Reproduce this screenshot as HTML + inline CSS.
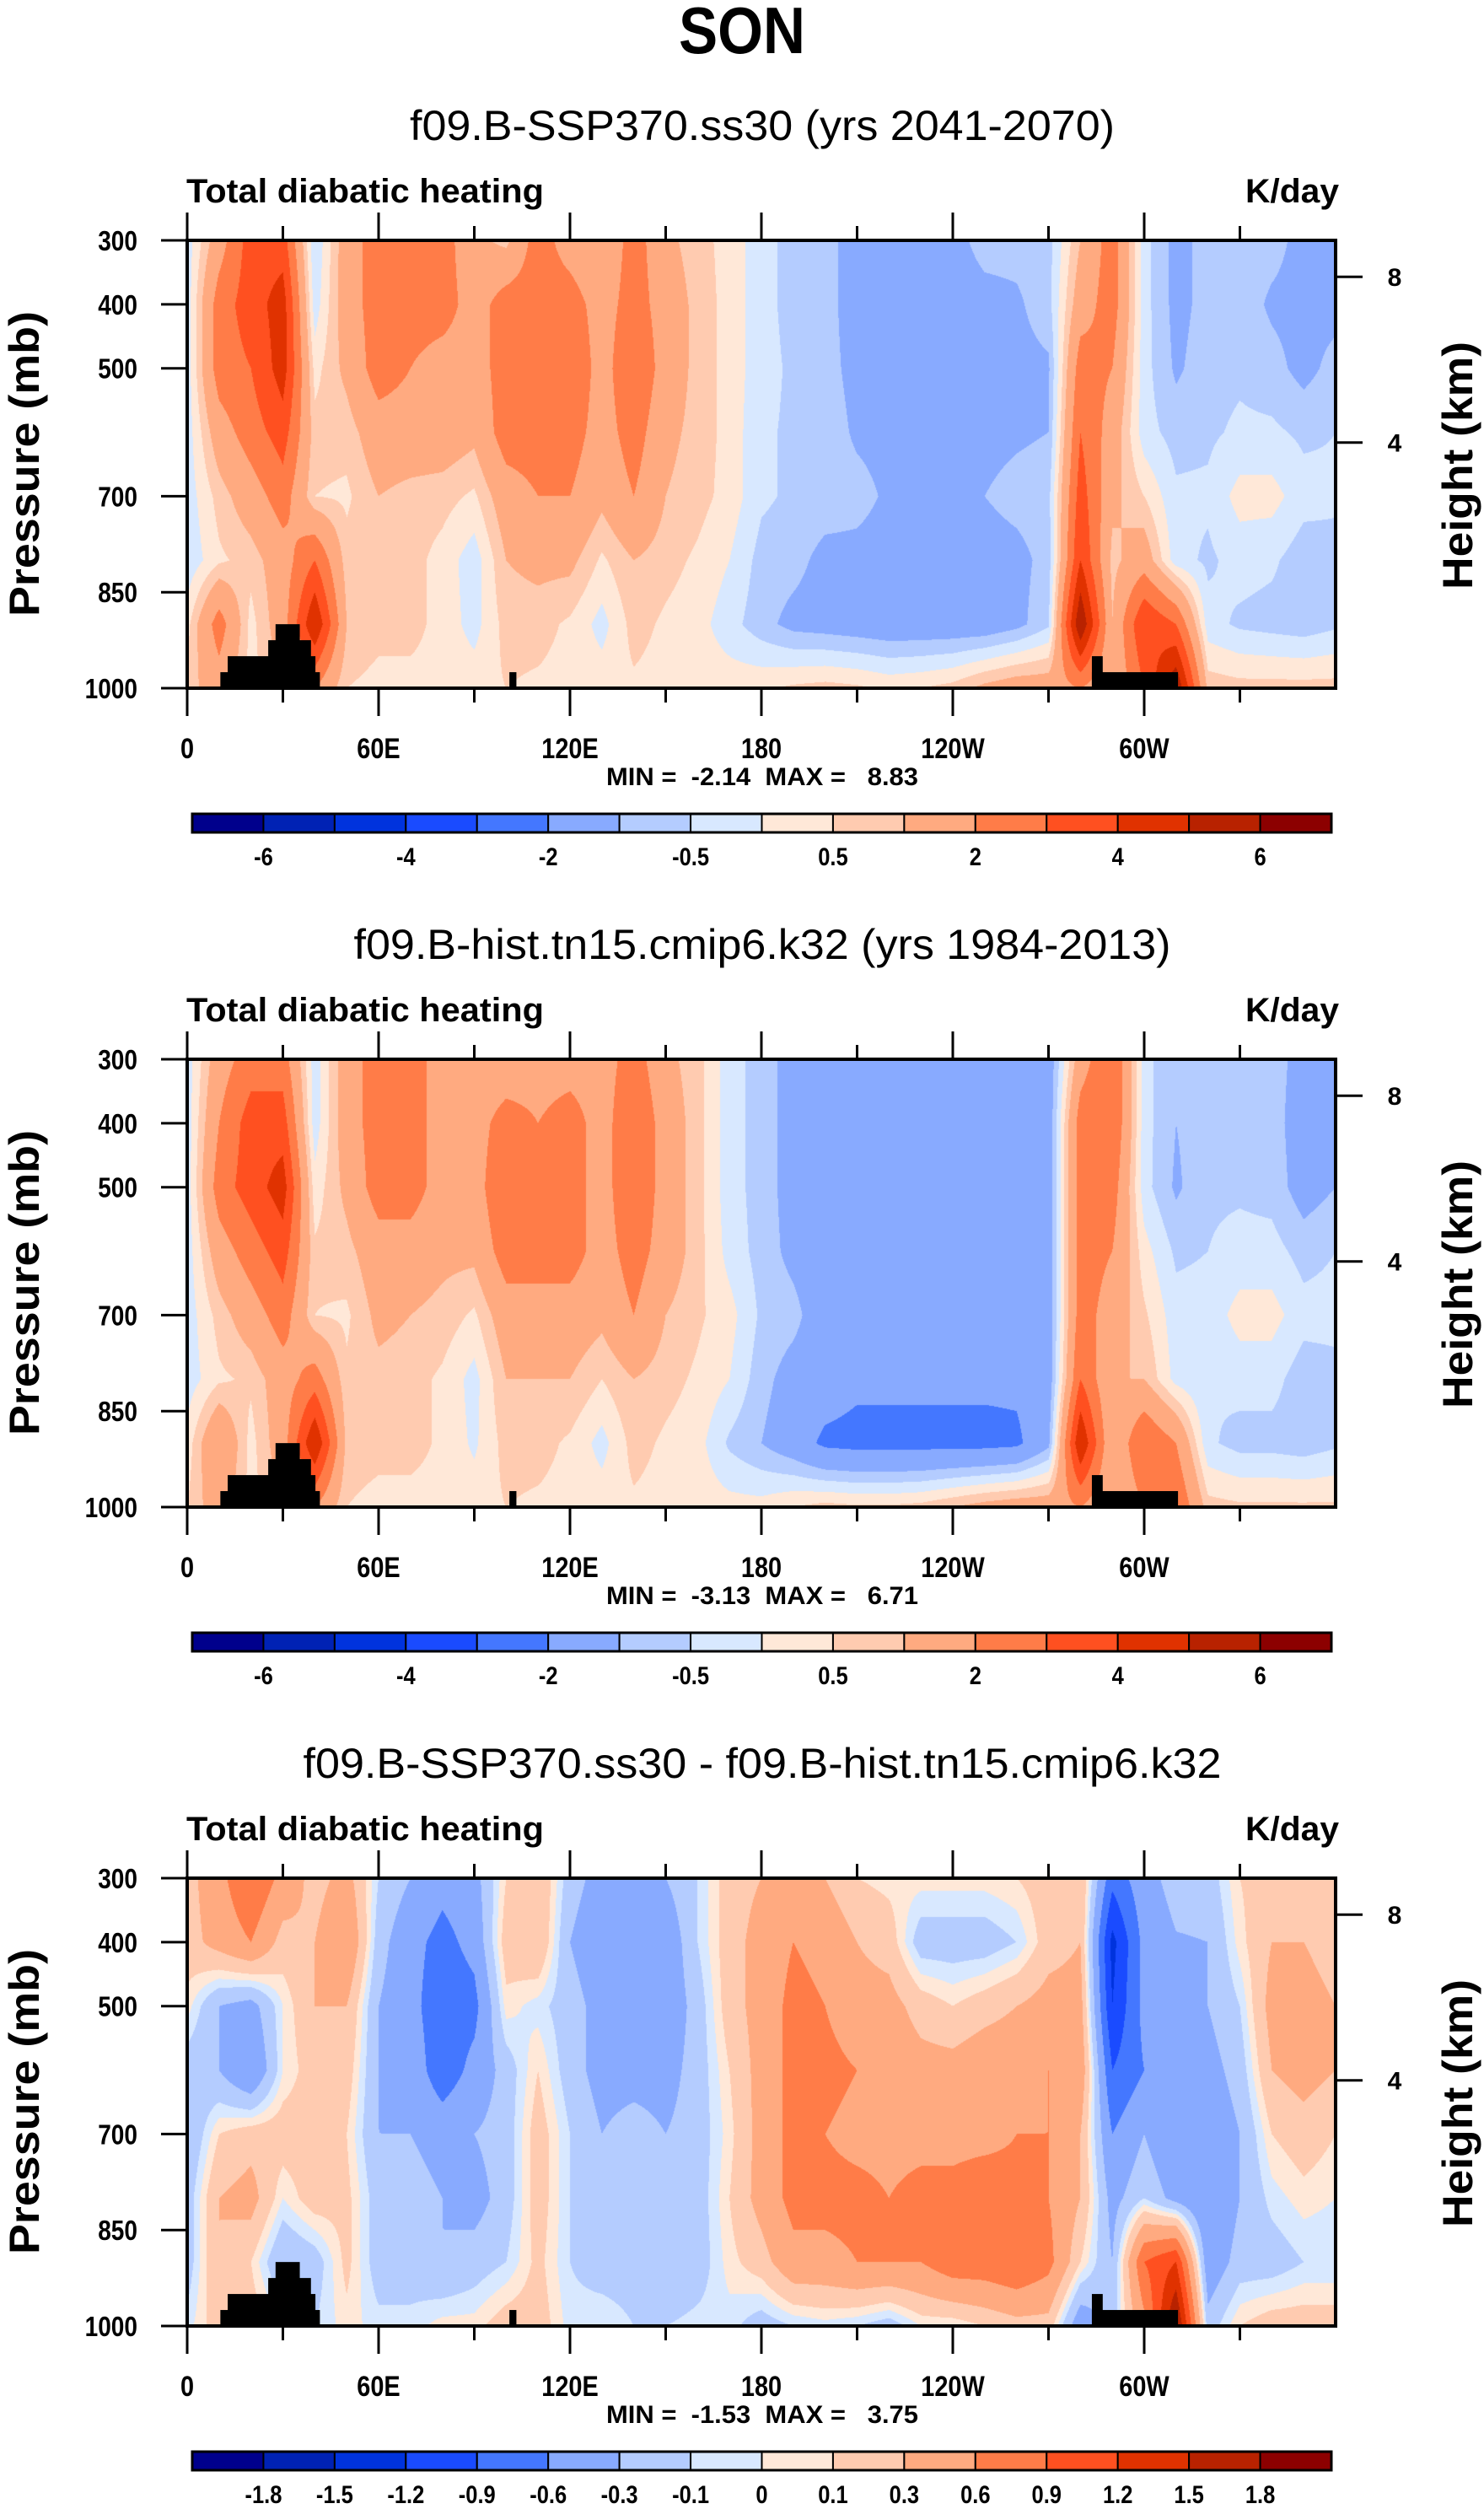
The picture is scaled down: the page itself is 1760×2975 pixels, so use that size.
<!DOCTYPE html>
<html><head><meta charset="utf-8">
<style>
html,body{margin:0;padding:0;background:#fff;}
#wrap{position:relative;width:1760px;height:2975px;overflow:hidden;}
canvas{position:absolute;}
svg{position:absolute;left:0;top:0;}
</style></head>
<body>
<div id="wrap">
<canvas id="c0" width="1362" height="531" style="left:222px;top:285px"></canvas>
<canvas id="c1" width="1362" height="531" style="left:222px;top:1256px"></canvas>
<canvas id="c2" width="1362" height="531" style="left:222px;top:2227px"></canvas>
<svg id="svg" width="1760" height="2975" xmlns="http://www.w3.org/2000/svg" font-family="Liberation Sans, Arial, sans-serif">
<text x="880" y="63" text-anchor="middle" font-size="78" font-weight="bold" textLength="150" lengthAdjust="spacingAndGlyphs">SON</text>
</svg>
</div>
<script>
// ---- data ----
const lons = [0,10,20,30,40,50,60,70,80,90,100,110,120,130,140,150,160,170,180,190,200,210,220,230,240,250,260,270,280,290,300,310,320,330,340,350,360];
const pressures = [300,400,500,600,700,800,900,1000];
const xTickLabels = ["0","60E","120E","180","120W","60W"];
const xTickLons = [0,60,120,180,240,300];
const pTickLabels = ["300","400","500","700","850","1000"];
const pTickValues = [300,400,500,700,850,1000];
const heightTickLabels = ["8","4"];
const heightTickP = [357,616];
const fullLevels = [-6,-5,-4,-3,-2,-1,-0.5,0,0.5,1,2,3,4,5,6];
const fullLevelLabels = ["-6","","-4","","-2","","-0.5","","0.5","","2","","4","","6"];
const diffLevels = [-1.8,-1.5,-1.2,-0.9,-0.6,-0.3,-0.1,0,0.1,0.3,0.6,0.9,1.2,1.5,1.8];
const diffLevelLabels = ["-1.8","-1.5","-1.2","-0.9","-0.6","-0.3","-0.1","0","0.1","0.3","0.6","0.9","1.2","1.5","1.8"];
const palette = ["#00008c","#0022b4","#0033dd","#1a4bff","#4477ff","#88aaff","#b4ccff","#d8e8ff","#ffe8d8","#ffcbb0","#ffaa80","#ff7c48","#ff5020","#e03200","#b82200","#8c0000"];
// terrain blocks: [lonStart, lonEnd, pTop]
const terrainLon0 = [10.4,12.7,25.4,27.7,101,283.6,283.6];
const terrainLon1 = [41.6,40.2,38.8,35.3,103.2,310.6,287];
const terrainTop = [975,950,925,900,975,975,950];
// values per longitude (columns), 300..1000 mb
const ssp370Heating = [
[-0.3,-0.3,-0.3,-0.3,-0.3,-0.4,0.3,0.7],
[1.5,2.5,2.5,1.5,0.7,0.4,2.5,1.5],
[3.5,3.5,3,2.5,1.5,0.7,0.3,0.3],
[3.5,4.5,4.5,3.5,2.5,1.5,1.5,1],
[-0.5,-0.3,0.3,0.7,0.5,3,5,2],
[1.5,1.5,1.2,0.7,0.4,0.7,1,0.5],
[2.5,2.5,2.5,1.5,1,0.8,0.7,0.3],
[2.5,2.5,2,1.5,0.8,0.7,0.7,0.3],
[2.5,2.5,1.5,1.5,0.7,0.3,0.3,0.3],
[1.2,1.5,1.5,1.2,0.4,-0.3,-0.2,0.3],
[0.8,2.5,2.5,2.5,1.5,1,0.7,0.5],
[2.5,2.5,2.5,2.5,2,1.2,0.7,0.4],
[1.5,2.5,3,2.5,2,1.2,0.4,0.3],
[1,1.5,1.5,1.5,1.2,0.4,-0.2,0.3],
[2.5,2.5,3,2.5,2,1,0.7,0.4],
[1.2,1.5,1.5,1.2,1,0.7,0.4,0.3],
[0.7,0.8,0.8,0.8,0.7,0.4,0.2,0.3],
[0.3,0.3,0.3,0.3,0.3,0,-0.3,0.3],
[-0.3,-0.3,-0.3,-0.4,-0.4,-0.7,-0.8,0.4],
[-0.7,-0.7,-0.6,-0.6,-0.6,-0.8,-1.2,0.6],
[-0.8,-0.8,-0.8,-0.7,-0.7,-1.2,-1.3,0.7],
[-1.3,-1.3,-1.2,-1.1,-0.8,-1.2,-1.4,0.6],
[-1.4,-1.4,-1.3,-1.2,-1.1,-1.3,-1.5,0.4],
[-1.4,-1.4,-1.3,-1.3,-1.2,-1.4,-1.5,0.5],
[-1.2,-1.3,-1.3,-1.2,-1.1,-1.3,-1.5,0.7],
[-0.8,-1.2,-1.3,-1.2,-1,-1.3,-1.5,1.2],
[-0.8,-1.1,-1.2,-1.1,-0.8,-1.2,-1.2,1.5],
[-0.7,-0.7,-1.1,-1,-0.7,-0.8,-0.6,1.5],
[1,1.5,2.5,3,3.5,4,6,2],
[2.5,2.5,2,1.5,1.2,0.8,1,1],
[-0.3,-0.3,-0.3,-0.3,0.5,1.5,4,3],
[-1.2,-1.2,-1.1,-0.7,-0.4,-0.3,3,6],
[-0.8,-0.8,-0.7,-0.6,-0.4,-0.6,-0.3,0.8],
[-0.7,-0.7,-0.6,-0.4,0.2,-0.3,-0.6,0.7],
[-0.8,-1.1,-0.8,-0.4,0.2,-0.4,-0.7,0.7],
[-1.2,-1.2,-1.2,-0.6,-0.3,-0.8,-0.8,0.7],
[-1.2,-1.2,-0.8,-0.5,-0.4,-0.7,-0.6,0.7]
];
const histHeating = [
[-0.3,-0.3,-0.3,-0.3,-0.3,-0.3,0.2,0.5],
[1.5,2,2.5,1.5,0.7,0.4,2,1.5],
[2.5,3.5,3.5,2.5,1.5,0.6,0.3,0.3],
[2.5,3.5,4.5,3.5,2.5,1.5,1.5,1],
[-0.3,-0.3,0.2,0.6,0.5,2.5,5,2],
[1.5,1.5,1.2,0.8,0.4,0.6,0.8,0.5],
[2.5,2.5,2.5,1.5,1.2,0.8,0.7,0.3],
[2.5,2.5,2.5,1.5,1,0.7,0.7,0.3],
[1.5,1.5,1.5,1.2,0.8,0.4,0.4,0.3],
[1.2,1.5,1.5,1.2,0.4,-0.2,-0.1,0.3],
[1.2,2.5,3,2.5,1.5,1,0.7,0.5],
[1.5,2,2.5,2.5,1.5,1,0.7,0.4],
[1.5,2.5,2.5,2.5,1.5,1,0.4,0.3],
[1.5,1.5,1.5,1.5,1.2,0.5,-0.2,0.3],
[2.5,3,3,2.5,2,1,0.7,0.4],
[1.2,1.5,1.5,1.5,1,0.7,0.4,0.3],
[0.7,0.7,0.7,0.7,0.6,0.4,0.2,0.3],
[-0.3,-0.3,-0.3,-0.2,0.2,0,-0.6,0.2],
[-0.7,-0.7,-0.7,-0.7,-0.6,-0.8,-1,0.2],
[-1.3,-1.3,-1.3,-1.2,-0.8,-1.3,-1.5,0.5],
[-1.5,-1.5,-1.5,-1.5,-1.5,-1.5,-2.2,0.7],
[-1.5,-1.5,-1.5,-1.5,-1.5,-1.8,-2.3,0.6],
[-1.5,-1.5,-1.5,-1.5,-1.5,-1.8,-2.3,0.6],
[-1.5,-1.5,-1.5,-1.5,-1.5,-1.8,-2.3,0.7],
[-1.5,-1.5,-1.5,-1.5,-1.5,-1.8,-2.3,1.0],
[-1.5,-1.5,-1.5,-1.5,-1.5,-1.8,-2.3,1.3],
[-1.5,-1.5,-1.5,-1.5,-1.5,-1.8,-2.2,1.5],
[-1.5,-1.5,-1.5,-1.5,-1.5,-1.5,-1.2,1.5],
[1.5,2.5,2.5,2.5,2.5,3,5,2],
[3,3,2.5,2,1.5,1,1,1],
[-0.3,-0.3,-0.3,0.2,0.6,1,3,2],
[-1,-1,-1.1,-0.6,-0.3,-0.2,2,3],
[-0.7,-0.7,-0.6,-0.5,-0.3,-0.5,-0.4,0.7],
[-0.7,-0.7,-0.6,-0.3,0.2,-0.3,-0.7,0.6],
[-0.8,-0.8,-0.7,-0.3,0.2,-0.3,-0.7,0.6],
[-1.2,-1.3,-1.3,-0.7,-0.3,-0.8,-0.8,0.6],
[-1.2,-1.2,-1,-0.5,-0.3,-0.7,-0.6,0.6]
];
const diffHeating = [
[0.2,0.2,0.05,-0.2,-0.3,-0.2,-0.2,-0.05],
[0.5,0.4,-0.3,-0.3,0.1,0.3,0.3,0.2],
[0.9,0.6,-0.4,-0.6,0.2,0.4,0.1,0.2],
[0.5,0.2,0,0,0.2,0,-0.3,0],
[0.2,0.3,0.3,0.2,0.2,0.2,-0.2,-0.1],
[0.4,0.6,0.3,0.2,0.1,0.15,0.15,0.05],
[-0.1,-0.2,-0.3,-0.3,-0.3,-0.2,-0.2,-0.05],
[-0.3,-0.5,-0.5,-0.4,-0.3,-0.2,-0.2,-0.05],
[-0.5,-0.7,-0.8,-0.8,-0.4,-0.3,-0.3,0.05],
[-0.4,-0.5,-0.7,-0.5,-0.3,-0.4,-0.2,0.05],
[0.1,0.2,0.05,-0.2,-0.2,-0.2,-0.1,0.2],
[0.3,0.3,-0.05,0.1,0.2,0.2,0.15,0.2],
[-0.2,-0.3,-0.2,-0.2,-0.1,-0.1,-0.1,-0.05],
[-0.4,-0.5,-0.4,-0.4,-0.3,-0.2,-0.2,0],
[-0.3,-0.4,-0.5,-0.4,-0.2,-0.2,-0.2,-0.1],
[-0.3,-0.5,-0.5,-0.4,-0.3,-0.3,-0.3,-0.1],
[-0.1,-0.1,-0.2,-0.2,-0.2,-0.2,-0.2,-0.05],
[0.2,0.2,0.2,0.1,0.05,0.1,0.05,-0.05],
[0.3,0.4,0.4,0.4,0.4,0.4,0.2,-0.2],
[0.3,0.6,0.7,0.7,0.7,0.7,0.5,-0.1],
[0.3,0.5,0.6,0.7,0.6,0.7,0.5,-0.05],
[0.1,0.3,0.4,0.6,0.5,0.7,0.6,-0.1],
[0.05,0.2,0.4,0.5,0.5,0.6,0.6,-0.2],
[0.05,-0.2,0.2,0.4,0.5,0.7,0.6,0],
[0.05,-0.2,0.1,0.4,0.5,0.7,0.8,0],
[0.05,-0.2,0.2,0.5,0.5,0.8,0.8,0.1],
[0.1,-0.1,0.3,0.5,0.6,0.7,0.9,0.2],
[0.2,0.2,0.4,0.6,0.6,0.6,0.7,0.2],
[0.3,0.3,0.4,0.5,0.3,0.3,0.1,-0.5],
[-0.8,-1.3,-1.2,-0.9,-0.6,-0.4,-0.3,-0.2],
[-0.4,-0.5,-0.5,-0.6,-0.3,-0.1,0.9,0.5],
[-0.2,-0.32,-0.32,-0.5,-0.6,-0.4,1.2,1.9],
[-0.2,-0.3,-0.3,-0.4,-0.5,-0.6,-0.5,-0.2],
[0.1,0.05,-0.1,-0.2,-0.3,-0.3,-0.2,0.1],
[0.2,0.3,0.4,0.3,0.1,-0.05,-0.2,0.2],
[0.2,0.3,0.4,0.4,0.2,0.05,-0.1,0.2],
[0.2,0.2,0.3,0.3,0.1,0,-0.1,0.2]
];
const panelTitles = ["f09.B-SSP370.ss30 (yrs 2041-2070)","f09.B-hist.tn15.cmip6.k32 (yrs 1984-2013)","f09.B-SSP370.ss30 - f09.B-hist.tn15.cmip6.k32"];
const panelMinMax = ["MIN =  -2.14  MAX =   8.83","MIN =  -3.13  MAX =   6.71","MIN =  -1.53  MAX =   3.75"];

// ---- layout ----
const X0 = 222, X1 = 1584, PW = X1 - X0, PH = 531;
const offsets = [0, 971, 1942];
const titleWidths = [836, 969, 1089];
const NS = "http://www.w3.org/2000/svg";
const svg = document.getElementById('svg');
function xOf(lon){ return X0 + lon / 360 * PW; }
function yOf(p, top){ return top + (p - 300) / 700 * PH; }
function mk(tag, attrs, parent){
  const e = document.createElementNS(NS, tag);
  for (const k in attrs) e.setAttribute(k, attrs[k]);
  (parent || svg).appendChild(e);
  return e;
}
function rgb(h){ return [parseInt(h.slice(1,3),16),parseInt(h.slice(3,5),16),parseInt(h.slice(5,7),16)]; }
const palRGB = palette.map(rgb);
function colorIndex(v, levels){
  v += 1e-4;
  let i = 0;
  while (i < levels.length && v >= levels[i]) i++;
  return i;
}
function drawField(canvasId, data, levels){
  const cv = document.getElementById(canvasId);
  const ctx = cv.getContext('2d');
  const img = ctx.createImageData(PW, PH);
  const nLon = lons.length, nP = pressures.length;
  for (let j = 0; j < PH; j++){
    const p = 300 + (j + 0.5) / PH * 700;
    let pj = 0;
    while (pj < nP - 2 && p > pressures[pj+1]) pj++;
    const ty = Math.min(1, Math.max(0, (p - pressures[pj]) / (pressures[pj+1] - pressures[pj])));
    for (let i = 0; i < PW; i++){
      const lon = (i + 0.5) / PW * 360;
      let li = 0;
      while (li < nLon - 2 && lon > lons[li+1]) li++;
      const tx = Math.min(1, Math.max(0, (lon - lons[li]) / (lons[li+1] - lons[li])));
      const v = (data[li][pj]*(1-tx) + data[li+1][pj]*tx)*(1-ty) + (data[li][pj+1]*(1-tx) + data[li+1][pj+1]*tx)*ty;
      const c = palRGB[colorIndex(v, levels)];
      const k = (j*PW + i)*4;
      img.data[k]=c[0]; img.data[k+1]=c[1]; img.data[k+2]=c[2]; img.data[k+3]=255;
    }
  }
  ctx.putImageData(img, 0, 0);
}
drawField('c0', ssp370Heating, fullLevels);
drawField('c1', histHeating, fullLevels);
drawField('c2', diffHeating, diffLevels);

function drawPanel(k){
  const off = offsets[k];
  const top = 285 + off, bot = top + PH;
  const g = mk('g', {});
  
  
  let t = mk('text', {x:904, y:166+off, 'text-anchor':'middle', 'font-size':50, textLength:titleWidths[k], lengthAdjust:'spacingAndGlyphs'}, g);
  t.textContent = panelTitles[k];
  
  
  t = mk('text', {x:221, y:240+off, 'font-size':40, 'font-weight':'bold', textLength:424, lengthAdjust:'spacingAndGlyphs'}, g);
  t.textContent = 'Total diabatic heating';
  
  
  t = mk('text', {x:1588, y:240+off, 'text-anchor':'end', 'font-size':40, 'font-weight':'bold', textLength:111, lengthAdjust:'spacingAndGlyphs'}, g);
  t.textContent = 'K/day';
  
  
  for (let i = 0; i < terrainTop.length; i++){
    const r = mk('rect', {x:xOf(terrainLon0[i]), y:yOf(terrainTop[i], top), width:xOf(terrainLon1[i])-xOf(terrainLon0[i]), height:bot-yOf(terrainTop[i], top), fill:'#000'}, g);
    
    
  }
  const fr = mk('rect', {x:X0, y:top, width:PW, height:PH, fill:'none', stroke:'#000', 'stroke-width':4}, g);
  
  
  for (let lon = 0; lon < 360; lon += 30){
    const major = lon % 60 === 0;
    const L = major ? 33 : 17;
    const x = xOf(lon);
    mk('line', {x1:x, y1:top-L, x2:x, y2:top, stroke:'#000', 'stroke-width':3}, g);
    mk('line', {x1:x, y1:bot, x2:x, y2:bot+L, stroke:'#000', 'stroke-width':3}, g);
  }
  for (let i = 0; i < xTickLons.length; i++){
    const tl = mk('text', {x:xOf(xTickLons[i]), y:899+off, 'text-anchor':'middle', 'font-size':34, 'font-weight':'bold', 'transform-origin':xOf(xTickLons[i])+'px '+(899+off)+'px', transform:'scale(0.85,1)'}, g);
    tl.textContent = xTickLabels[i];
    
    
  }
  for (let i = 0; i < pTickValues.length; i++){
    const y = yOf(pTickValues[i], top);
    mk('line', {x1:X0-31, y1:y, x2:X0, y2:y, stroke:'#000', 'stroke-width':3}, g);
    const tl = mk('text', {x:163, y:y+12, 'text-anchor':'end', 'font-size':33, 'font-weight':'bold', 'transform-origin':'163px '+(y+12)+'px', transform:'scale(0.85,1)'}, g);
    tl.textContent = pTickLabels[i];
    
    
  }
  for (let i = 0; i < heightTickP.length; i++){
    const y = yOf(heightTickP[i], top);
    mk('line', {x1:X1, y1:y, x2:X1+32, y2:y, stroke:'#000', 'stroke-width':3}, g);
    const tl = mk('text', {x:1654, y:y+11, 'text-anchor':'middle', 'font-size':30, 'font-weight':'bold'}, g);
    tl.textContent = heightTickLabels[i];
    
    
  }
  t = mk('text', {x:0, y:0, 'text-anchor':'middle', 'font-size':50, 'font-weight':'bold', textLength:362, lengthAdjust:'spacingAndGlyphs', transform:'translate(46,'+(550+off)+') rotate(-90)'}, g);
  t.textContent = 'Pressure (mb)';
  
  
  t = mk('text', {x:0, y:0, 'text-anchor':'middle', 'font-size':50, 'font-weight':'bold', textLength:294, lengthAdjust:'spacingAndGlyphs', transform:'translate(1746,'+(552+off)+') rotate(-90)'}, g);
  t.textContent = 'Height (km)';
  
  
  t = mk('text', {x:904, y:931+off, 'text-anchor':'middle', 'font-size':30, 'font-weight':'bold', textLength:370, lengthAdjust:'spacingAndGlyphs', style:'white-space:pre'}, g);
  t.textContent = panelMinMax[k];
  
  
  const cbX = 228, cbW = 1351, bw = cbW / 16, cbY = 965 + off;
  const labels = k === 2 ? diffLevelLabels : fullLevelLabels;
  for (let i = 0; i < 16; i++){
    const r = mk('rect', {x:cbX + i*bw, y:cbY, width:bw, height:22, fill:palette[i], stroke:'#000', 'stroke-width':2}, g);
    
    
  }
  mk('rect', {x:cbX, y:cbY, width:cbW, height:22, fill:'none', stroke:'#000', 'stroke-width':3}, g);
  for (let i = 0; i < labels.length; i++){
    if (!labels[i]) continue;
    const lx = cbX + (i+1)*bw;
    const tl = mk('text', {x:lx, y:1026+off, 'text-anchor':'middle', 'font-size':30, 'font-weight':'bold', 'transform-origin':lx+'px '+(1026+off)+'px', transform:'scale(0.85,1)'}, g);
    tl.textContent = labels[i];
    
    
  }
}
for (let k = 0; k < 3; k++) drawPanel(k);
</script>
</body></html>
